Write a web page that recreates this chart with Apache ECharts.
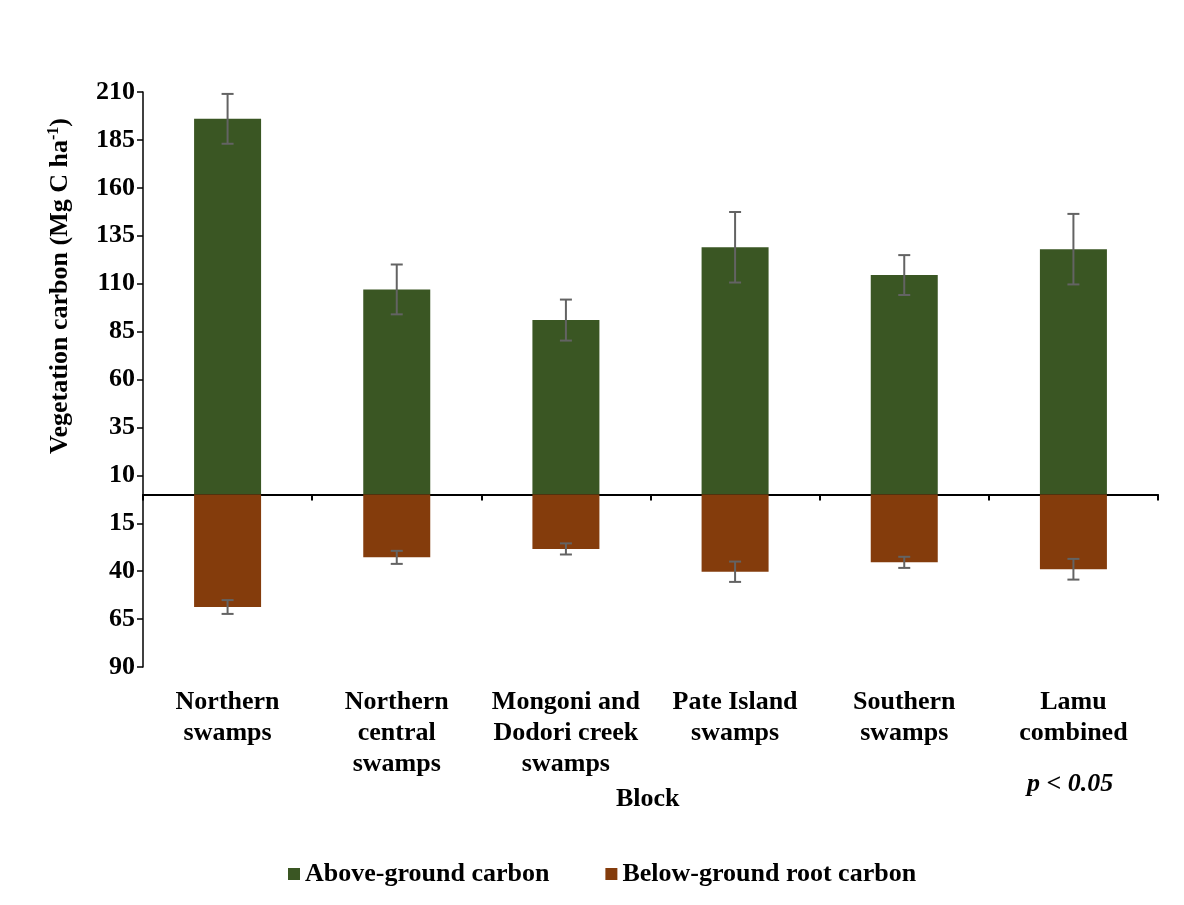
<!DOCTYPE html>
<html>
<head>
<meta charset="utf-8">
<script src="https://cdn.jsdelivr.net/npm/echarts@6/dist/echarts.min.js"></script>
<style>
  html, body { margin: 0; background: #fff; }
  #chart { width: 1184px; height: 905px; }
</style>
</head>
<body>
<div id="chart"></div>
<script>
// data
var blocks = ['Northern\nswamps', 'Northern\ncentral\nswamps', 'Mongoni and\nDodori creek\nswamps', 'Pate Island\nswamps', 'Southern\nswamps', 'Lamu\ncombined'];
var aboveGround = [196, 107, 91, 129, 114.5, 128];
var aboveErr = [13, 13, 10.7, 18.4, 10.4, 18.4];
var belowGround = [-58.7, -32.8, -28.4, -40.3, -35.4, -39.0];
var belowErr = [3.6, 3.4, 2.9, 5.3, 2.9, 5.4];
var yMin = -90, yMax = 210, yStep = 25;

var FONT = '"Liberation Serif", "Times New Roman", serif';
var GREEN = '#3a5623';
var BROWN = '#843c0c';

var chart = echarts.init(document.getElementById('chart'));

// error bar data: [index, low, high]
var errData = [];
aboveGround.forEach(function (v, i) { errData.push([i, v - aboveErr[i], v + aboveErr[i]]); });
belowGround.forEach(function (v, i) { errData.push([i, v - belowErr[i], v + belowErr[i]]); });

function renderErr(params, api) {
  var x = api.value(0);
  var lo = api.coord([x, api.value(1)]);
  var hi = api.coord([x, api.value(2)]);
  var w = 6;
  var st = { stroke: '#636363', lineWidth: 2 };
  return {
    type: 'group',
    children: [
      { type: 'line', shape: { x1: lo[0], y1: lo[1], x2: hi[0], y2: hi[1] }, style: st },
      { type: 'line', shape: { x1: lo[0] - w, y1: lo[1], x2: lo[0] + w, y2: lo[1] }, style: st },
      { type: 'line', shape: { x1: hi[0] - w, y1: hi[1], x2: hi[0] + w, y2: hi[1] }, style: st }
    ]
  };
}

var option = {
  animation: false,
  grid: { left: 143, right: 26, top: 92, bottom: 238 },
  legend: {
    data: ['Above-ground carbon', 'Below-ground root carbon'],
    left: 283,
    top: 856,
    icon: 'rect',
    itemWidth: 12,
    itemHeight: 12,
    itemGap: 56,
    textStyle: { fontFamily: FONT, fontWeight: 'bold', fontSize: 26, color: '#000' }
  },
  xAxis: [
    {
      type: 'category',
      data: blocks,
      axisLine: { onZero: true, lineStyle: { color: '#000', width: 2 } },
      axisTick: { show: true, length: 6, lineStyle: { color: '#000', width: 2 } },
      axisLabel: { show: false }
    },
    {
      type: 'category',
      data: blocks,
      position: 'bottom',
      axisLine: { show: false, onZero: false },
      axisTick: { show: false },
      axisLabel: {
        interval: 0,
        margin: 20,
        fontFamily: FONT, fontWeight: 'bold', fontSize: 26, color: '#000',
        lineHeight: 31
      }
    }
  ],
  yAxis: {
    type: 'value',
    min: yMin,
    max: yMax,
    interval: yStep,
    splitLine: { show: false },
    axisLine: { show: true, lineStyle: { color: '#000', width: 1.5 } },
    axisTick: { show: true, length: 6, lineStyle: { color: '#000', width: 1.5 } },
    axisLabel: {
      margin: 8,
      fontFamily: FONT, fontWeight: 'bold', fontSize: 26, color: '#000',
      formatter: function (v) { return Math.abs(v); }
    }
  },
  series: [
    {
      name: 'Above-ground carbon',
      type: 'bar',
      xAxisIndex: 0,
      barWidth: 67,
      barGap: '-100%',
      itemStyle: { color: GREEN },
      data: aboveGround
    },
    {
      name: 'Below-ground root carbon',
      type: 'bar',
      xAxisIndex: 0,
      barWidth: 67,
      barGap: '-100%',
      itemStyle: { color: BROWN },
      data: belowGround
    },
    {
      name: 'err',
      type: 'custom',
      xAxisIndex: 0,
      renderItem: renderErr,
      data: errData,
      z: 5
    }
  ],
  graphic: [
    {
      type: 'text',
      x: 60,
      y: 286,
      rotation: Math.PI / 2,
      style: {
        text: '{a|Vegetation carbon (Mg C ha}{s|-1}{a|)}',
        align: 'center',
        verticalAlign: 'middle',
        rich: {
          a: { fontFamily: FONT, fontWeight: 'bold', fontSize: 26, fill: '#000', lineHeight: 28 },
          s: { fontFamily: FONT, fontWeight: 'bold', fontSize: 16, fill: '#000', verticalAlign: 'top', lineHeight: 28 }
        }
      }
    },
    {
      type: 'text',
      left: 616,
      top: 786,
      style: { text: 'Block', fontFamily: FONT, fontWeight: 'bold', fontSize: 26, fill: '#000' }
    },
    {
      type: 'text',
      left: 1027,
      top: 771,
      style: { text: 'p < 0.05', fontFamily: FONT, fontWeight: 'bold', fontStyle: 'italic', fontSize: 26, fill: '#000' }
    }
  ]
};

chart.setOption(option);
</script>
</body>
</html>
